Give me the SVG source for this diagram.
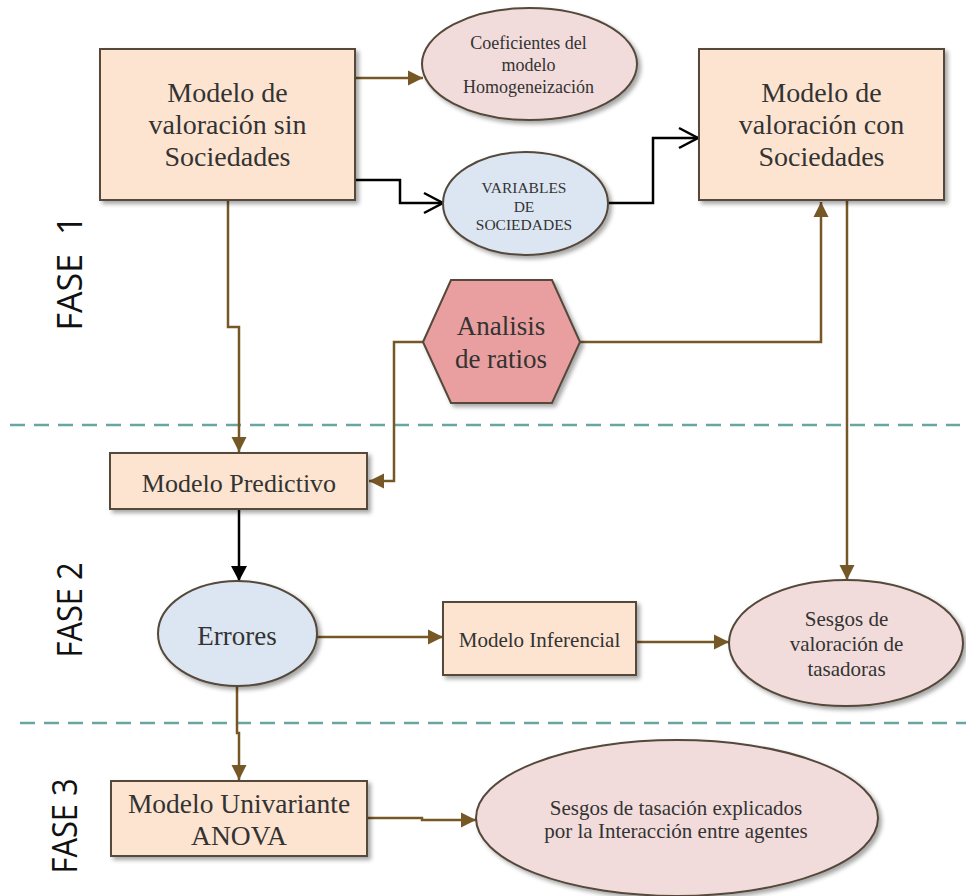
<svg xmlns="http://www.w3.org/2000/svg" width="966" height="896" viewBox="0 0 966 896">
<style>
.box{fill:#fde4d0;stroke:#54483a;stroke-width:2;filter:url(#sh)}
.pink{fill:#f1dcdb;stroke:#54483a;stroke-width:2;filter:url(#sh)}
.blue{fill:#dce6f2;stroke:#54483a;stroke-width:2;filter:url(#sh)}
.hex{fill:#e99f9f;stroke:#54483a;stroke-width:2;filter:url(#sh)}
.t{font-family:"Liberation Serif","Times New Roman",serif;fill:#333;text-anchor:middle}
.fase{font-family:"Open Sans","Liberation Sans",sans-serif;fill:#111;text-anchor:middle;font-size:34px}
.br{fill:none;stroke:#765726;stroke-width:2.5;marker-end:url(#ab)}
.bk{fill:none;stroke:#000;stroke-width:2.5;marker-end:url(#ao)}
.bkf{fill:none;stroke:#000;stroke-width:2.5;marker-end:url(#af)}
.dash{stroke:#6aa6a0;stroke-width:2.5;stroke-dasharray:15 9}
</style>
<defs>
<filter id="sh" x="-10%" y="-10%" width="130%" height="130%">
<feDropShadow dx="3" dy="3" stdDeviation="2" flood-color="#000" flood-opacity="0.35"/>
</filter>
<marker id="ab" markerUnits="userSpaceOnUse" markerWidth="16" markerHeight="16" refX="15" refY="8" orient="auto">
<path d="M0,0.5 L15,8 L0,15.5 z" fill="#765726"/>
</marker>
<marker id="af" markerUnits="userSpaceOnUse" markerWidth="16" markerHeight="16" refX="15" refY="8" orient="auto">
<path d="M0,0 L15,8 L0,16 z" fill="#000"/>
</marker>
<marker id="ao" markerUnits="userSpaceOnUse" markerWidth="24" markerHeight="24" refX="20" refY="11" orient="auto" overflow="visible">
<path d="M1,1 L20,11 L1,21" fill="none" stroke="#000" stroke-width="2.5"/>
</marker>
</defs>

<g id="phases">
<line class="dash" x1="10" y1="425" x2="960" y2="425"/>
<line class="dash" x1="20" y1="723" x2="966" y2="723"/>
<text class="fase" transform="translate(82,273) rotate(-90)">FASE <tspan dx="10">1</tspan></text>
<text class="fase" transform="translate(82,610) rotate(-90)" textLength="95" lengthAdjust="spacingAndGlyphs">FASE 2</text>
<text class="fase" transform="translate(77,826) rotate(-90)" textLength="95" lengthAdjust="spacingAndGlyphs">FASE 3</text>
</g>

<g id="connectors">
<path class="br" d="M355,78 H423"/>
<path class="bk" d="M355,180 H400 V203 H443"/>
<path class="bk" d="M608,203 H653 V138 H698"/>
<path class="br" d="M228,200 V327 H239 V452"/>
<path class="br" d="M423,342 H394 V481 H369"/>
<path class="br" d="M580,342 H821 V202"/>
<path class="br" d="M847,200 V580"/>
<path class="bkf" d="M239,509 V581"/>
<path class="br" d="M314,637 H443"/>
<path class="br" d="M636,642 H729"/>
<path class="br" d="M237,686 V733 H239 V780"/>
<path class="br" d="M367,818 H422 V820 H476"/>
</g>

<g id="modelo-sin">
<rect class="box" x="100" y="49" width="255" height="151"/>
<text class="t" font-size="28"><tspan x="227.5" y="102">Modelo de</tspan><tspan x="227.5" y="134">valoración sin</tspan><tspan x="227.5" y="166">Sociedades</tspan></text>
</g>

<g id="coeficientes">
<ellipse class="pink" cx="529.5" cy="64" rx="107.5" ry="56"/>
<text class="t" font-size="18"><tspan x="528.5" y="49">Coeficientes del</tspan><tspan x="528.5" y="70.5">modelo</tspan><tspan x="528.5" y="92.5">Homogeneización</tspan></text>
</g>

<g id="variables">
<ellipse class="blue" cx="525.5" cy="203.5" rx="82.5" ry="51.5"/>
<text class="t" font-size="15.5"><tspan x="524" y="193">VARIABLES</tspan><tspan x="524" y="212">DE</tspan><tspan x="524" y="230">SOCIEDADES</tspan></text>
</g>

<g id="modelo-con">
<rect class="box" x="699" y="49" width="245" height="151"/>
<text class="t" font-size="28"><tspan x="821.5" y="102">Modelo de</tspan><tspan x="821.5" y="134">valoración con</tspan><tspan x="821.5" y="166">Sociedades</tspan></text>
</g>

<g id="analisis">
<polygon class="hex" points="423,342 451,280 552,280 580,342 552,403 451,403"/>
<text class="t" font-size="27"><tspan x="501" y="335">Analisis</tspan><tspan x="501" y="368">de ratios</tspan></text>
</g>

<g id="predictivo">
<rect class="box" x="110" y="453" width="257" height="56"/>
<text class="t" font-size="26" x="239" y="492">Modelo Predictivo</text>
</g>

<g id="errores">
<ellipse class="blue" cx="237.5" cy="633.5" rx="79.5" ry="52.5"/>
<text class="t" font-size="27" x="237" y="645">Errores</text>
</g>

<g id="inferencial">
<rect class="box" x="443" y="602" width="193" height="73"/>
<text class="t" font-size="21" x="539.5" y="647">Modelo Inferencial</text>
</g>

<g id="sesgos-valoracion">
<ellipse class="pink" cx="846" cy="643" rx="117" ry="63"/>
<text class="t" font-size="21"><tspan x="846.5" y="626">Sesgos de</tspan><tspan x="846.5" y="651">valoración de</tspan><tspan x="846.5" y="676">tasadoras</tspan></text>
</g>

<g id="univariante">
<rect class="box" x="111" y="781" width="256" height="75"/>
<text class="t" font-size="27.5"><tspan x="239" y="813">Modelo Univariante</tspan><tspan x="239" y="845">ANOVA</tspan></text>
</g>

<g id="sesgos-tasacion">
<ellipse class="pink" cx="677" cy="818" rx="201" ry="78"/>
<text class="t" font-size="21"><tspan x="676" y="815">Sesgos de tasación explicados</tspan><tspan x="676" y="838">por la Interacción entre agentes</tspan></text>
</g>
</svg>
